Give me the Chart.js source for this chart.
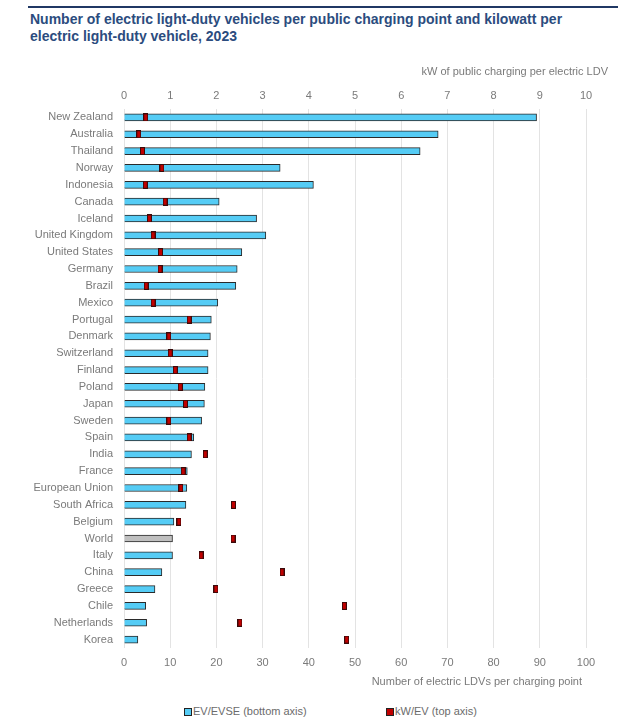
<!DOCTYPE html>
<html>
<head>
<meta charset="utf-8">
<script src="https://cdn.jsdelivr.net/npm/chart.js@4"></script>
<style>
  body { margin: 0; background: #fff; font-family: "Liberation Sans", Arial, sans-serif; }
  .wrap { position: relative; width: 618px; height: 727px; }
  .topline { position: absolute; left: 28px; right: 0; top: 6px; height: 2px; background: #203864; }
  .title { position: absolute; left: 30px; top: 11px; width: 585px; font-size: 14px; font-weight: bold; color: #2B4C7E; line-height: 16.5px; }
  .chartbox { position: absolute; left: 0; top: 60px; width: 618px; height: 640px; }
  .legend { position: absolute; top: 705px; left: 0; width: 618px; font-size: 11px; color: #6B6B6B; }
  .legend span.item { position: absolute; white-space: nowrap; }
  .legend i { display: inline-block; width: 6px; height: 6px; border: 1px solid #222; margin-right: 1px; vertical-align: -1px; }
</style>
</head>
<body>
<div class="wrap">
  <div class="topline"></div>
  <div class="title">Number of electric light-duty vehicles per public charging point and kilowatt per<br>electric light-duty vehicle, 2023</div>
  <div class="chartbox"><canvas id="evChart" width="618" height="640"></canvas></div>
  <div class="legend">
    <span class="item" style="left:184px"><i style="background:#55CCF5"></i>EV/EVSE (bottom axis)</span>
    <span class="item" style="left:386px"><i style="background:#C00000"></i>kW/EV (top axis)</span>
  </div>
</div>
<script>
const countries = ['New Zealand', 'Australia', 'Thailand', 'Norway', 'Indonesia', 'Canada', 'Iceland',
  'United Kingdom', 'United States', 'Germany', 'Brazil', 'Mexico', 'Portugal', 'Denmark', 'Switzerland',
  'Finland', 'Poland', 'Japan', 'Sweden', 'Spain', 'India', 'France', 'European Union', 'South Africa',
  'Belgium', 'World', 'Italy', 'China', 'Greece', 'Chile', 'Netherlands', 'Korea'];

// EV per public charging point (bottom axis)
const evPerEvse = [89.3, 68.0, 64.1, 33.8, 41.0, 20.6, 28.7, 30.7, 25.5, 24.5, 24.2, 20.3, 18.9, 18.7, 18.2,
  18.2, 17.5, 17.4, 16.8, 15.1, 14.6, 13.7, 13.6, 13.4, 10.8, 10.5, 10.5, 8.2, 6.7, 4.7, 4.9, 3.0];

// kW of public charging per EV (top axis)
const kwPerEv = [0.47, 0.32, 0.40, 0.82, 0.46, 0.89, 0.55, 0.63, 0.79, 0.78, 0.48, 0.63, 1.41, 0.97, 1.00,
  1.11, 1.22, 1.33, 0.97, 1.41, 1.76, 1.28, 1.23, 2.37, 1.19, 2.36, 1.67, 3.42, 1.99, 4.77, 2.51, 4.82];

const bottomTicks = [0, 10, 20, 30, 40, 50, 60, 70, 80, 90, 100];
const topTicks = [0, 1, 2, 3, 4, 5, 6, 7, 8, 9, 10];

document.addEventListener('DOMContentLoaded', () => {
    const labelColor = '#7A7A7A';
    const font = { family: '"Liberation Sans", Arial, sans-serif', size: 11 };

    // small red marker used as point style
    const marker = document.createElement('canvas');
    marker.width = 5;
    marker.height = 8;
    const mctx = marker.getContext('2d');
    mctx.fillStyle = '#3A0A0A';
    mctx.fillRect(0, 0, 5, 8);
    mctx.fillStyle = '#C00000';
    mctx.fillRect(1, 1, 3, 6);

    const barColors = countries.map(c => c === 'World' ? '#BFBFBF' : '#55CCF5');

    // axis titles drawn next to the chart area
    const axisTitles = {
        id: 'axisTitles',
        afterDraw(chart) {
            const { ctx, chartArea } = chart;
            ctx.save();
            ctx.font = '11px "Liberation Sans", Arial, sans-serif';
            ctx.fillStyle = labelColor;
            ctx.textAlign = 'right';
            ctx.textBaseline = 'middle';
            ctx.fillText('kW of public charging per electric LDV', chartArea.right + 22, 12);
            ctx.fillText('Number of electric LDVs per charging point', chartArea.right - 4, 622);
            ctx.restore();
        }
    };

    new Chart(document.getElementById('evChart'), {
        type: 'bar',
        data: {
            labels: countries,
            datasets: [{
                type: 'line',
                label: 'kW/EV (top axis)',
                data: kwPerEv,
                indexAxis: 'y',
                xAxisID: 'x2',
                yAxisID: 'y',
                showLine: false,
                pointStyle: marker,
                pointRadius: 4,
                order: 0
            }, {
                label: 'EV/EVSE (bottom axis)',
                data: evPerEvse,
                xAxisID: 'x',
                yAxisID: 'y',
                backgroundColor: barColors,
                borderColor: '#2A2A2A',
                borderWidth: 1,
                barThickness: 7,
                order: 1
            }]
        },
        options: {
            indexAxis: 'y',
            responsive: false,
            animation: false,
            layout: { padding: { left: 0, right: 32, top: 0, bottom: 0 } },
            plugins: {
                legend: { display: false },
                tooltip: { enabled: true }
            },
            scales: {
                y: {
                    type: 'category',
                    grid: { display: false },
                    border: { display: false },
                    ticks: { color: labelColor, font: font, padding: 3, autoSkip: false },
                    afterFit: (scale) => { scale.width = 124; }
                },
                x: {
                    position: 'bottom',
                    min: 0,
                    max: 100,
                    afterBuildTicks: (scale) => { scale.ticks = bottomTicks.map(v => ({ value: v })); },
                    grid: { color: '#E3E3E3', drawTicks: false },
                    border: { display: false },
                    ticks: { color: labelColor, font: font, padding: 8 },
                    afterFit: (scale) => { scale.height = 52; }
                },
                x2: {
                    position: 'top',
                    min: 0,
                    max: 10,
                    afterBuildTicks: (scale) => { scale.ticks = topTicks.map(v => ({ value: v })); },
                    grid: { display: false },
                    border: { display: false },
                    ticks: { color: labelColor, font: font, padding: -2 },
                    afterFit: (scale) => { scale.height = 49; }
                }
            }
        },
        plugins: [axisTitles]
    });
});
</script>
</body>
</html>
